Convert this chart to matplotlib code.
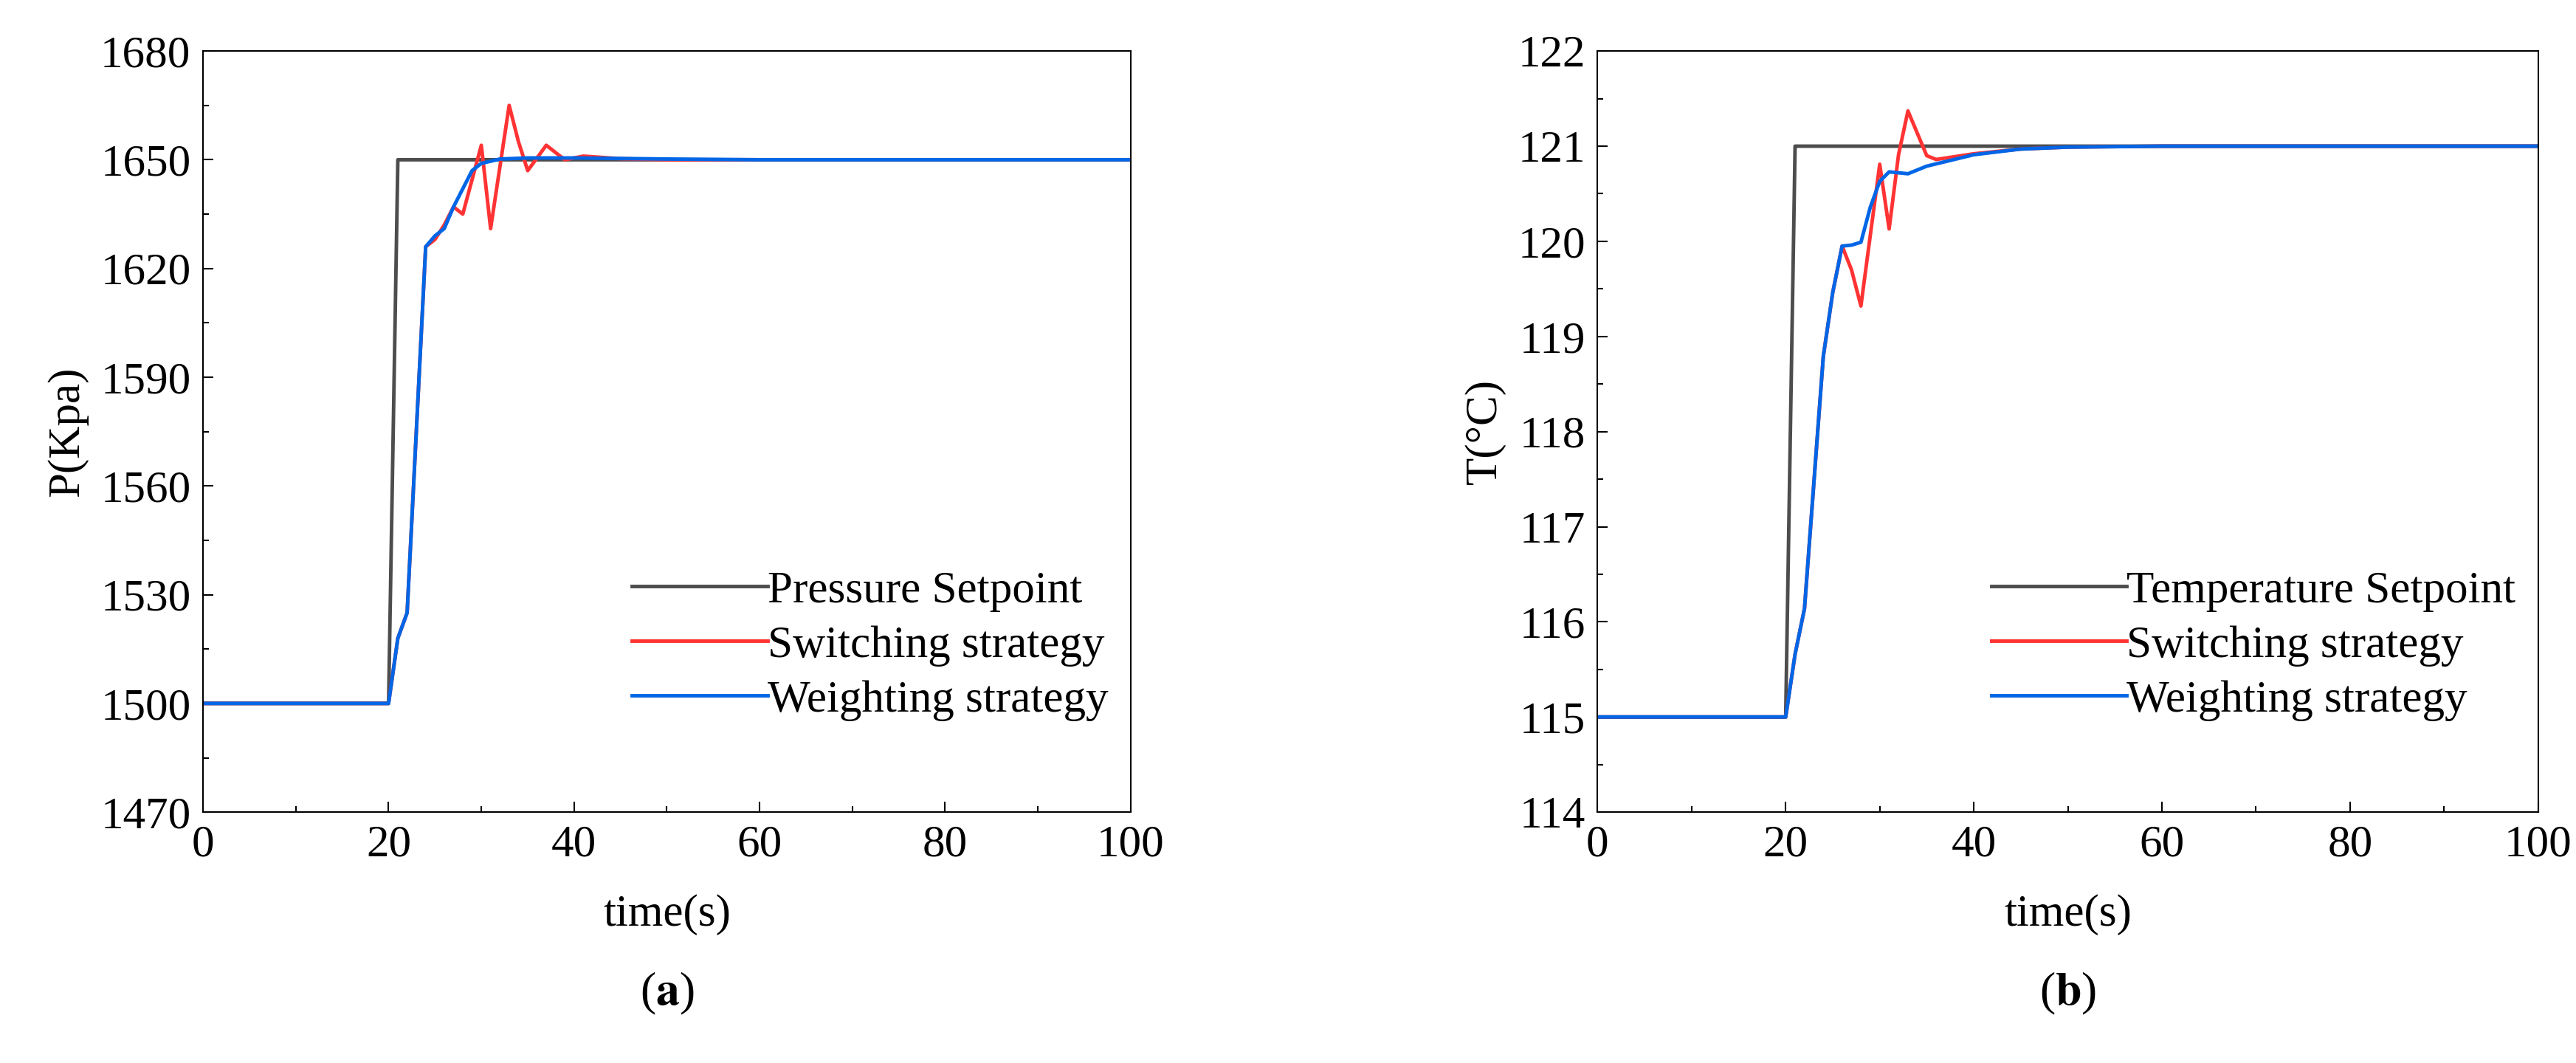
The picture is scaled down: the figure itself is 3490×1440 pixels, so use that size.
import matplotlib
matplotlib.use("Agg")
import matplotlib.pyplot as plt
from matplotlib.ticker import MultipleLocator

plt.rcParams['font.family'] = ['Liberation Serif', 'DejaVu Serif']
plt.rcParams['mathtext.fontset'] = 'stix'

# Pressure panel
t_sp = [0, 20, 21, 100]
p_sp = [1500, 1500, 1650, 1650]
t_pw = [0, 20, 21, 22, 24, 25, 26, 27, 28, 29, 30, 32, 35, 40, 50, 60, 100]
p_w = [1500, 1500, 1518, 1525, 1626, 1629, 1631, 1637, 1642, 1647, 1649, 1650.2, 1650.5, 1650.5, 1650.2, 1650, 1650]
t_ps = [0, 20, 21, 22, 24, 25, 26, 27, 28, 30, 31, 32, 33, 34, 35, 37, 39, 41, 45, 50, 60, 100]
p_s = [1500, 1500, 1518, 1525, 1626, 1628, 1632, 1637, 1635, 1654, 1631, 1648, 1665, 1655, 1647, 1654, 1650, 1651, 1650.3, 1650, 1650, 1650]

# Temperature panel
t_tsp = [0, 20, 21, 100]
T_sp = [115, 115, 121, 121]
t_tw = [0, 20, 21, 22, 24, 25, 26, 27, 28, 29, 30, 31, 33, 35, 40, 45, 50, 60, 100]
T_w = [115, 115, 115.66, 116.14, 118.79, 119.46, 119.95, 119.96, 119.99, 120.36, 120.63, 120.73, 120.71, 120.79, 120.91, 120.97, 120.99, 121, 121]
t_ts = [0, 20, 21, 22, 24, 25, 26, 27, 28, 30, 31, 32, 33, 35, 36, 40, 45, 50, 60, 100]
T_s = [115, 115, 115.66, 116.14, 118.79, 119.46, 119.95, 119.7, 119.32, 120.81, 120.13, 120.91, 121.37, 120.9, 120.86, 120.92, 120.97, 120.99, 121, 121]

C_SP, C_SW, C_WT = '#4d4d4d', '#ff3333', '#0066e6'
FS = 44

fig = plt.figure(figsize=(34.91, 14.40), dpi=100)
axes = [fig.add_axes([0.0788, 0.236, 0.360, 0.716]),
        fig.add_axes([0.620, 0.236, 0.365, 0.716])]

panels = [
    (axes[0], t_sp, p_sp, t_ps, p_s, t_pw, p_w, 'Pressure Setpoint', 'P(Kpa)', (1470, 1680), 30, 15, 'a'),
    (axes[1], t_tsp, T_sp, t_ts, T_s, t_tw, T_w, 'Temperature Setpoint', 'T(°C)', (114, 122), 1, 0.5, 'b'),
]
for ax, ts, ys, tsw, ysw, tw, yw, splab, ylab, ylim, maj, mnr, cap in panels:
    ax.plot(ts, ys, color=C_SP, lw=3.5, label=splab)
    ax.plot(tsw, ysw, color=C_SW, lw=3.5, label='Switching strategy')
    ax.plot(tw, yw, color=C_WT, lw=3.5, label='Weighting strategy')
    ax.set_xlim(0, 100)
    ax.set_ylim(*ylim)
    ax.xaxis.set_major_locator(MultipleLocator(20))
    ax.xaxis.set_minor_locator(MultipleLocator(10))
    ax.yaxis.set_major_locator(MultipleLocator(maj))
    ax.yaxis.set_minor_locator(MultipleLocator(mnr))
    ax.tick_params(which='both', direction='in', labelsize=FS, width=1.5, pad=12)
    ax.tick_params(which='major', length=10)
    ax.tick_params(which='minor', length=6)
    for s in ax.spines.values():
        s.set_linewidth(1.5)
    ax.set_xlabel('time(s)', fontsize=FS, labelpad=28)
    ax.set_ylabel(ylab, fontsize=FS, labelpad=12)
    ax.legend(loc='lower right', bbox_to_anchor=(1.0, 0.09), frameon=False,
              fontsize=FS, handlelength=3.0, handletextpad=0.0, labelspacing=0.3,
              borderaxespad=0.1)
    pos = ax.get_position()
    fig.text(pos.x0 + pos.width / 2, 0.065, r'($\mathbf{' + cap + r'}$)',
             ha='center', va='center', fontsize=FS + 2)

fig.savefig('out.png', dpi=100)
